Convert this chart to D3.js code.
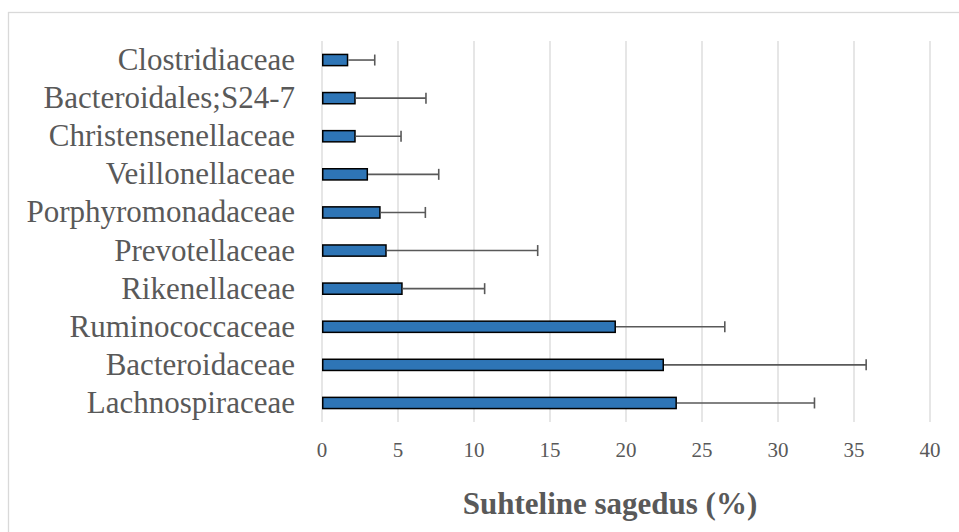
<!DOCTYPE html>
<html><head><meta charset="utf-8">
<script src="https://cdn.jsdelivr.net/npm/d3@7"></script>
<style>body{margin:0;background:#fff;}svg{display:block;}</style>
</head><body>
<svg id="chart" width="959" height="532"></svg>
<script>
const categories = ["Clostridiaceae","Bacteroidales;S24-7","Christensenellaceae","Veillonellaceae","Porphyromonadaceae","Prevotellaceae","Rikenellaceae","Ruminococcaceae","Bacteroidaceae","Lachnospiraceae"];
const values = [1.73, 2.22, 2.22, 3.03, 3.86, 4.26, 5.31, 19.34, 22.5, 23.35];
const errorUpper = [3.47, 6.84, 5.2, 7.68, 6.8, 14.19, 10.7, 26.5, 35.8, 32.4];
const xTicks = [0,5,10,15,20,25,30,35,40];
const xTitle = "Suhteline sagedus (%)";

(function(){
const svg = d3.select("#chart");
const pLeft = 322, pRight = 930, pTop = 41, pBottom = 422;
const x = d3.scaleLinear().domain([0,40]).range([pLeft,pRight]);
const y = d3.scaleBand().domain(categories).range([pTop,pBottom]).paddingInner(0.667).paddingOuter(0.333);

// frame
svg.append("rect").attr("x",8.5).attr("y",12.5).attr("width",1000).attr("height",1000)
  .attr("fill","none").attr("stroke","#d9d9d9").attr("stroke-width",1.3);

// gridlines
svg.append("g").selectAll("line").data(xTicks).join("line")
  .attr("x1",d=>x(d)).attr("x2",d=>x(d)).attr("y1",pTop).attr("y2",pBottom)
  .attr("stroke","#d9d9d9").attr("stroke-width",1.3);

// tick labels
svg.append("g").selectAll("text").data(xTicks).join("text")
  .attr("x",d=>x(d)).attr("y",457).attr("text-anchor","middle")
  .attr("font-family","'Liberation Serif', 'Times New Roman', serif").attr("font-size",21)
  .attr("fill","#595959").text(d=>d);

// category labels
svg.append("g").selectAll("text").data(categories).join("text")
  .attr("x",295).attr("y",d=>y(d)+y.bandwidth()/2+10).attr("text-anchor","end")
  .attr("font-family","'Liberation Serif', 'Times New Roman', serif").attr("font-size",31)
  .attr("fill","#595959").text(d=>d);

// bars
svg.append("g").selectAll("rect").data(categories).join("rect")
  .attr("x",x(0)+0.75).attr("y",d=>y(d)+0.75)
  .attr("width",(d,i)=>x(values[i])-x(0)-1.5).attr("height",y.bandwidth()-1.5)
  .attr("fill","#2e75b6").attr("stroke","#000").attr("stroke-width",1.5);

// error bars
const eg = svg.append("g").attr("stroke","#595959").attr("stroke-width",1.6);
categories.forEach((c,i)=>{
  const cy = y(c)+y.bandwidth()/2;
  eg.append("line").attr("x1",x(values[i])).attr("x2",x(errorUpper[i])).attr("y1",cy).attr("y2",cy);
  eg.append("line").attr("x1",x(errorUpper[i])).attr("x2",x(errorUpper[i])).attr("y1",cy-5.5).attr("y2",cy+5.5);
});

// axis title
svg.append("text").attr("x",610).attr("y",514).attr("text-anchor","middle")
  .attr("font-family","'Liberation Serif', 'Times New Roman', serif").attr("font-size",31)
  .attr("font-weight","bold").attr("fill","#595959").text(xTitle);
})();
</script>
</body></html>
